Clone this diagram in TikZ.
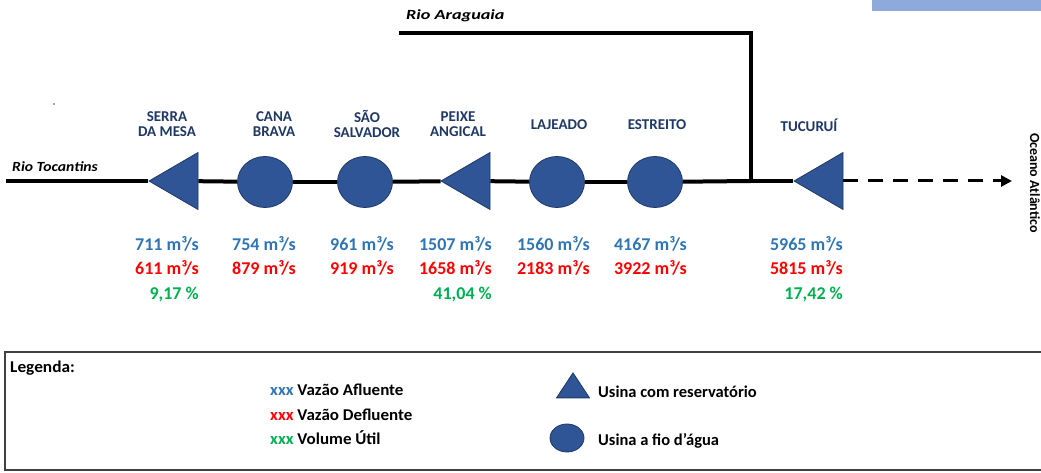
\documentclass[tikz,border=0pt]{standalone}
\usepackage{fontspec}
\usepackage{graphicx}
\setmainfont{Carlito}
\usetikzlibrary{shapes.geometric,arrows.meta}
\definecolor{navy}{HTML}{1F3864}
\definecolor{fillblue}{HTML}{2F5597}
\definecolor{valblue}{HTML}{2E75B6}
\definecolor{valred}{HTML}{FF0000}
\definecolor{valgreen}{HTML}{00B050}
\definecolor{hdrblue}{HTML}{8EA9DB}
\definecolor{boxgray}{HTML}{404040}
\begin{document}
\begin{tikzpicture}[x=1pt,y=-1pt,
  river/.style={line width=4pt, black},
  resv/.style={isosceles triangle, isosceles triangle stretches, shape border rotate=180,
    minimum width=57pt, minimum height=49pt, inner sep=0pt, fill=fillblue, draw=navy, line width=0.8pt, anchor=apex},
  runr/.style={ellipse, minimum width=55pt, minimum height=51pt, inner sep=0pt, fill=fillblue, draw=navy, line width=0.8pt},
  stname/.style={font=\fontsize{15}{15}\selectfont\bfseries, text=navy, align=center, inner sep=0pt},
  rivlab/.style={font=\fontsize{14}{15}\selectfont\bfseries\itshape, text=black, anchor=base west, inner sep=0pt},
  vin/.style={font=\fontsize{18}{19}\selectfont\bfseries, text=valblue, anchor=base east, inner sep=0pt},
  vout/.style={vin, text=valred},
  vvol/.style={vin, text=valgreen},
  legtxt/.style={font=\fontsize{16.5}{18}\selectfont\bfseries, text=black, anchor=base west, inner sep=0pt},
  pt/.style={inner sep=0pt, minimum size=0pt}
]
\useasboundingbox (0,0) rectangle (1041,473);
% header box (cut off)
\fill[hdrblue] (872,-5) rectangle (1050,11);

% tiny speck
\fill[black!70] (54,104) circle (0.8);

% river nodes
\coordinate (tstart) at (6,181);
\coordinate (astart) at (399,33);
\coordinate (acorner) at (751,33);
\coordinate (junc) at (751,181);
\coordinate (ocean) at (1012,181);

\draw[river] (astart) -- (acorner) -- (junc);

\node[resv] (serra) at (148,181) {};
\node[runr] (cana) at (265,182) {};
\node[runr] (sao) at (365,182) {};
\node[resv] (peixe) at (440,181) {};
\node[runr] (lajeado) at (557,182) {};
\node[runr] (estreito) at (655,182) {};
\node[resv] (tucurui) at (793,181) {};

\draw[river] (tstart) -- (serra.apex);
\draw[river] (serra) -- (cana);
\draw[river] (cana) -- (sao);
\draw[river] (sao) -- (peixe);
\draw[river] (peixe) -- (lajeado);
\draw[river] (lajeado) -- (estreito);
\draw[river] (estreito) -- (junc);
\draw[river] (junc) -- (tucurui.apex);
\draw[line width=3pt, dash pattern=on 15pt off 10pt, -{Triangle[length=11pt,width=11pt]}] (tucurui.lower side) -- (ocean);

% river labels
\node[rivlab] (araglab) at (406,20) {\scalebox{1.3}[1]{Rio Araguaia}};
\node[rivlab] (toclab) at (12,172) {\scalebox{1.12}[1]{Rio Tocantins}};
\node[rivlab, rotate=-90, font=\fontsize{14}{15}\selectfont\bfseries] (oceanlab) at (1030,133) {Oceano Atlântico};

% station names
\node[stname] (nserra) at (167,124) {SERRA\\DA MESA};
\node[stname] (ncana) at (274,124) {CANA\\BRAVA};
\node[stname] (nsao) at (367,124) {SÃO\\SALVADOR};
\node[stname] (npeixe) at (458,124) {PEIXE\\ANGICAL};
\node[stname] (nlaj) at (559,125) {LAJEADO};
\node[stname] (nest) at (657,125) {ESTREITO};
\node[stname] (ntuc) at (809,125) {TUCURUÍ};

% values
\node[vin] (a1) at (199,250) {711 m³/s};
\node[vout] (d1) at (199,274.5) {611 m³/s};
\node[vvol] (v1) at (199,299) {9,17 \%};
\node[vin] (a2) at (296,250) {754 m³/s};
\node[vout] (d2) at (296,274.5) {879 m³/s};
\node[vin] (a3) at (394,250) {961 m³/s};
\node[vout] (d3) at (394,274.5) {919 m³/s};
\node[vin] (a4) at (492,250) {1507 m³/s};
\node[vout] (d4) at (492,274.5) {1658 m³/s};
\node[vvol] (v4) at (492,299) {41,04 \%};
\node[vin] (a5) at (590,250) {1560 m³/s};
\node[vout] (d5) at (590,274.5) {2183 m³/s};
\node[vin] (a6) at (687,250) {4167 m³/s};
\node[vout] (d6) at (687,274.5) {3922 m³/s};
\node[vin] (a7) at (843,250) {5965 m³/s};
\node[vout] (d7) at (843,274.5) {5815 m³/s};
\node[vvol] (v7) at (843,299) {17,42 \%};

% legend
\draw[boxgray, line width=1.6pt] (5,352) rectangle (1050,470);
\node[legtxt, font=\fontsize{16.5}{18}\selectfont\bfseries] (leg) at (10,372) {\scalebox{1.05}[1]{Legenda:}};
\node[legtxt] (l1) at (270,395.5) {\scalebox{1.03}[1]{\textcolor{valblue}{xxx} Vazão Afluente}};
\node[legtxt] (l2) at (270,420.5) {\scalebox{1.03}[1]{\textcolor{valred}{xxx} Vazão Defluente}};
\node[legtxt] (l3) at (270,444.5) {\scalebox{1.03}[1]{\textcolor{valgreen}{xxx} Volume Útil}};
\node[isosceles triangle, isosceles triangle stretches, shape border rotate=90,
  minimum width=33pt, minimum height=25pt, inner sep=0pt, fill=fillblue, draw=navy, line width=0.8pt] (ltri) at (573,389) {};
\node[ellipse, minimum width=34pt, minimum height=28pt, inner sep=0pt, fill=fillblue, draw=navy, line width=0.8pt] (lcirc) at (567,438) {};
\node[legtxt] (l4) at (598,397) {Usina com reservatório};
\node[legtxt] (l5) at (598,445) {Usina a fio d'água};
\end{tikzpicture}
\end{document}
